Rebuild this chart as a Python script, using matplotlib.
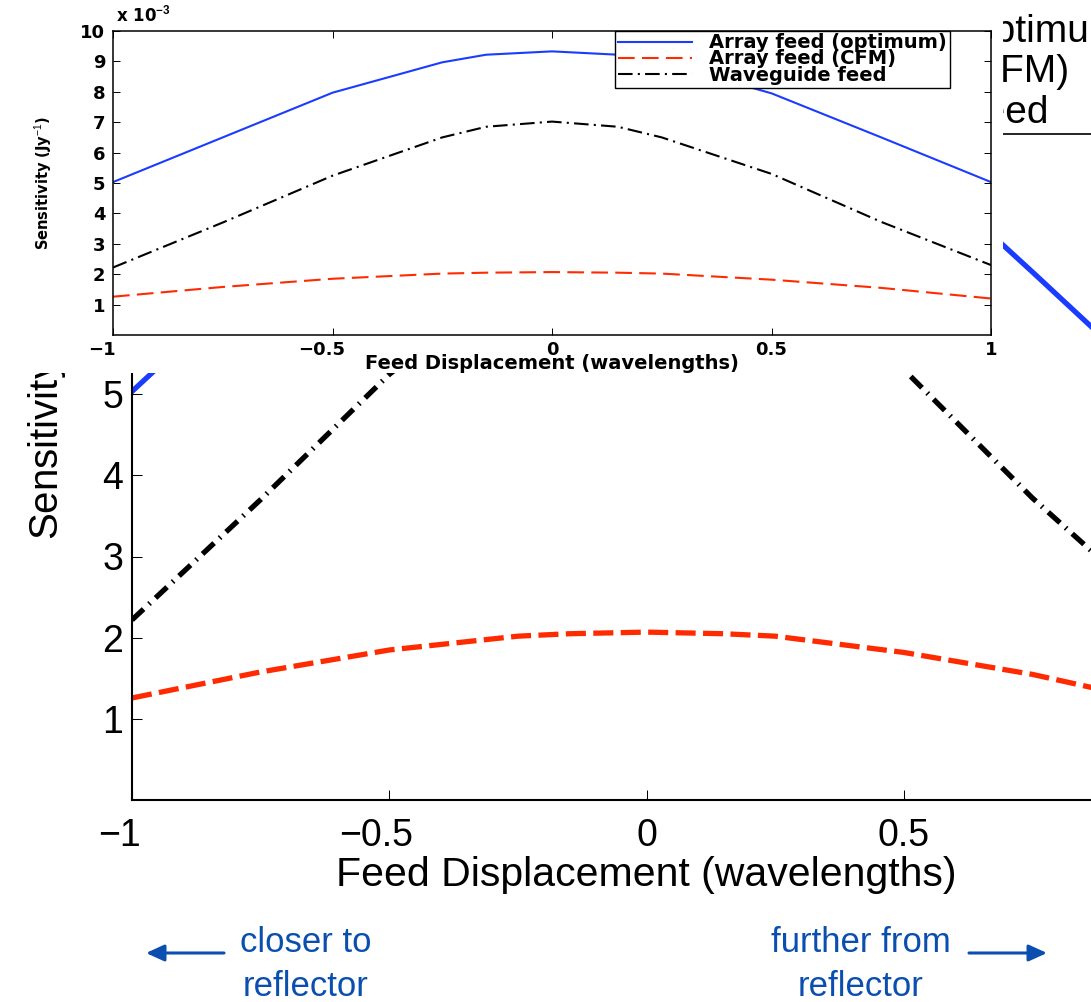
import matplotlib
matplotlib.use('Agg')
import matplotlib.pyplot as plt
from matplotlib.patches import Rectangle, FancyArrowPatch
from matplotlib.transforms import ScaledTranslation

plt.rcParams['font.family'] = 'Liberation Sans'
plt.rcParams['mathtext.fontset'] = 'custom'
plt.rcParams['mathtext.rm'] = 'Liberation Sans'
plt.rcParams['mathtext.bf'] = 'Liberation Sans:bold'

# feed displacement (wavelengths)
disp = [-1, -0.75, -0.5, -0.25, -0.15, 0, 0.15, 0.25, 0.5, 0.75, 1]
# sensitivity, units of 1e-3 Jy^-1
sens_opt = [5.03, 6.5, 7.97, 8.97, 9.22, 9.33, 9.22, 8.97, 7.95, 6.5, 5.03]
sens_cfm = [1.26, 1.58, 1.85, 2.02, 2.05, 2.07, 2.05, 2.02, 1.82, 1.55, 1.2]
sens_wg = [2.22, 3.7, 5.24, 6.5, 6.85, 7.02, 6.85, 6.5, 5.3, 3.72, 2.3]
labels = ['Array feed (optimum)', 'Array feed (CFM)', 'Waveguide feed']

xticks = [-1, -0.5, 0, 0.5, 1]
xticklabels = ['\u22121', '\u22120.5', '0', '0.5', '1']
yticks = [1, 2, 3, 4, 5, 6, 7, 8, 9, 10]

blue = '#1a3cff'
red = '#ff2a00'
textblue = '#0a4fb0'

W, H = 1091, 1002
fig = plt.figure(figsize=(W / 100, H / 100), dpi=100)


def hang_minus(ax, dx):
    # matlab style: number centred on the tick, minus sign hanging left
    for lab in ax.get_xticklabels():
        if lab.get_text().startswith('\u2212'):
            lab.set_transform(lab.get_transform() + ScaledTranslation(-dx / 100, 0, fig.dpi_scale_trans))


# ---- big slide chart (partly off-page) ----
big = fig.add_axes([132 / W, 1 - 800.4 / H, 1029 / W, 813 / H], zorder=0)
big.plot(disp, sens_opt, color=blue, lw=3.8, label=labels[0])
big.plot(disp, sens_cfm, color=red, lw=3.8, ls=(0, (3.8, 1.4)), label=labels[1])
big.plot(disp, sens_wg, color='k', lw=3.8, ls=(0, (3.0, 1.4, 0.3, 1.4)), label=labels[2])
big.set_xlim(-1, 1)
big.set_ylim(0, 10)
big.set_xticks(xticks)
big.set_xticklabels(xticklabels)
big.set_yticks(yticks)
big.tick_params(direction='in', length=7.2, width=0.75, labelsize=27, top=True, right=True)
big.tick_params(axis='x', pad=13)
big.tick_params(axis='y', pad=6.5)
for s in big.spines.values():
    s.set_linewidth(1.5)
big.set_xlabel('Feed Displacement (wavelengths)', fontsize=29.5)
big.xaxis.set_label_coords(0.5, -0.068)
big.set_ylabel('Sensitivity (Jy$^{-1}$)', fontsize=29)
big.yaxis.set_label_coords(-0.062, 0.5)
# blank title only gives the box the extra head room matlab legends have
leg = big.legend(loc='lower right', bbox_to_anchor=(1137 / W, 1 - 134 / H),
                 bbox_transform=fig.transFigure, borderaxespad=0, fontsize=28,
                 fancybox=False, edgecolor='k', framealpha=1, labelspacing=0.12,
                 borderpad=0.08, handlelength=2.5, title=' ', title_fontsize=10)
leg.get_frame().set_linewidth(1.2)
hang_minus(big, 13)

# white backing of the pasted inset
fig.add_artist(Rectangle((0, 1 - 373 / H), 1003 / W, 373 / H, transform=fig.transFigure,
                         facecolor='white', edgecolor='none', zorder=1))

# ---- inset chart ----
ins = fig.add_axes([113 / W, 1 - 335 / H, 878 / W, 304 / H], zorder=2)
ins.plot(disp, sens_opt, color=blue, lw=1.5, label=labels[0])
ins.plot(disp, sens_cfm, color=red, lw=1.5, ls=(0, (8, 3.5)), label=labels[1])
ins.plot(disp, sens_wg, color='k', lw=1.5, ls=(0, (7, 2.5, 1, 2.5)), label=labels[2])
ins.set_xlim(-1, 1)
ins.set_ylim(0, 10)
ins.set_xticks(xticks)
ins.set_xticklabels(xticklabels, fontfamily='DejaVu Sans', fontweight='bold', fontsize=13)
ins.set_yticks(yticks)
ins.set_yticklabels([str(v) for v in yticks], fontfamily='DejaVu Sans', fontweight='bold', fontsize=13)
ins.tick_params(direction='in', length=5, width=0.7, top=True, right=True)
ins.tick_params(axis='x', pad=4.5)
ins.tick_params(axis='y', pad=5.5)
for s in ins.spines.values():
    s.set_linewidth(1.1)
ins.set_xlabel('Feed Displacement (wavelengths)', fontfamily='DejaVu Sans', fontweight='bold', fontsize=14)
ins.xaxis.set_label_coords(0.5, -0.062)
ins.set_ylabel('Sensitivity (Jy$^{-1}$)', fontfamily='DejaVu Sans', fontweight='bold', fontsize=10.5)
ins.yaxis.set_label_coords(-0.066, 0.5)
ins.text(0.003, 1.02, r'x 10$^{\mathbf{-3}}$', transform=ins.transAxes, ha='left', va='bottom',
         fontfamily='DejaVu Sans', fontweight='bold', fontsize=12)
sleg = ins.legend(loc='center', bbox_to_anchor=(782.5 / W, 1 - 59 / H),
                  bbox_transform=fig.transFigure, borderaxespad=0,
                  prop={'family': 'DejaVu Sans', 'weight': 'bold', 'size': 14},
                  fancybox=False, edgecolor='k', framealpha=1, labelspacing=-0.15,
                  borderpad=0.15, handlelength=3.8, handletextpad=0.9)
sleg.get_frame().set_linewidth(1.0)
hang_minus(ins, 11)

# ---- direction notes ----
for x0, x1 in [(224, 146), (969, 1047)]:
    fig.add_artist(FancyArrowPatch((x0 / W, 1 - 953 / H), (x1 / W, 1 - 953 / H),
                                   transform=fig.transFigure, color=textblue, lw=2.2,
                                   arrowstyle='-|>,head_length=0.55,head_width=0.25',
                                   mutation_scale=20, shrinkA=0, shrinkB=0))
fig.text(306 / W, 1 - 926 / H, 'closer to\nreflector', ha='center', va='top',
         fontsize=25, color=textblue, linespacing=1.42)
fig.text(861 / W, 1 - 926 / H, 'further from\nreflector', ha='center', va='top',
         fontsize=25, color=textblue, linespacing=1.42)

fig.savefig('out.png', dpi=100)
